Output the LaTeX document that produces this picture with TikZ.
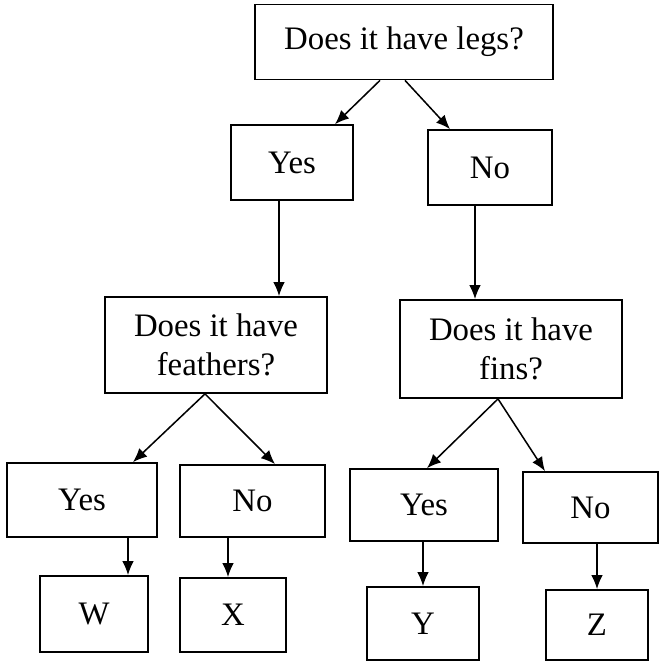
\documentclass[tikz,border=0pt]{standalone}
\usepackage{fontspec}
\setmainfont{Liberation Serif}
\usetikzlibrary{arrows.meta}

\begin{document}
\begin{tikzpicture}[x=0.03cm, y=-0.03cm, >={Latex[length=12pt,width=10pt]},
  box/.style={draw, line width=1.5pt, inner sep=0pt, align=center,
    font=\fontsize{28}{33}\selectfont},
  link/.style={->, line width=1.3pt}]

\useasboundingbox (0,0) rectangle (663,665);

% questions
\node [box, minimum width=8.94cm, minimum height=2.25cm] (legs) at (404,42) {Does it have legs?};
\node [box, minimum width=6.66cm, minimum height=2.88cm] (feathers) at (216,345) {Does it have\\feathers?};
\node [box, minimum width=6.66cm, minimum height=2.94cm] (fins) at (511,349) {Does it have\\fins?};

% answers
\node [box, minimum width=3.66cm, minimum height=2.25cm] (yes0) at (292,162.5) {Yes};
\node [box, minimum width=3.72cm, minimum height=2.25cm] (no0) at (490,167.5) {No};
\node [box, minimum width=4.5cm, minimum height=2.22cm] (yes1) at (82,500) {Yes};
\node [box, minimum width=4.35cm, minimum height=2.16cm] (no1) at (252.5,501) {No};
\node [box, minimum width=4.44cm, minimum height=2.16cm] (yes2) at (424,505) {Yes};
\node [box, minimum width=4.05cm, minimum height=2.13cm] (no2) at (590.5,507.5) {No};

% animals
\node [box, minimum width=3.24cm, minimum height=2.28cm] (w) at (94,614) {W};
\node [box, minimum width=3.18cm, minimum height=2.22cm] (x) at (233,615) {X};
\node [box, minimum width=3.36cm, minimum height=2.19cm] (y) at (423,623.5) {Y};
\node [box, minimum width=3.06cm, minimum height=2.1cm] (z) at (597,625) {Z};

\draw [link] ([xshift=-0.72cm]legs.south) -- ([xshift=1.29cm]yes0.north);
\draw [link] ([xshift=0.03cm]legs.south) -- ([xshift=-1.2cm]no0.north);

\draw [link] ([xshift=-0.39cm]yes0.south) -- ([xshift=-0.39cm]yes0.south |- feathers.north);
\draw [link] ([xshift=-0.45cm]no0.south) -- ([xshift=-0.45cm]no0.south |- fins.north);

\draw [link] ([xshift=-0.33cm]feathers.south) -- ([xshift=1.53cm]yes1.north);
\draw [link] ([xshift=-0.33cm]feathers.south) -- ([xshift=0.675cm]no1.north);
\draw [link] ([xshift=-0.39cm]fins.south) -- ([xshift=0.09cm]yes2.north);
\draw [link] ([xshift=-0.39cm]fins.south) -- ([xshift=-1.365cm]no2.north);

\draw [link] ([xshift=1.38cm]yes1.south) -- ([xshift=1.38cm]yes1.south |- w.north);
\draw [link] ([xshift=-0.735cm]no1.south) -- ([xshift=-0.735cm]no1.south |- x.north);
\draw [link] (yes2.south -| y) -- (y.north);
\draw [link] (no2.south -| z) -- (z.north);

\end{tikzpicture}
\end{document}
